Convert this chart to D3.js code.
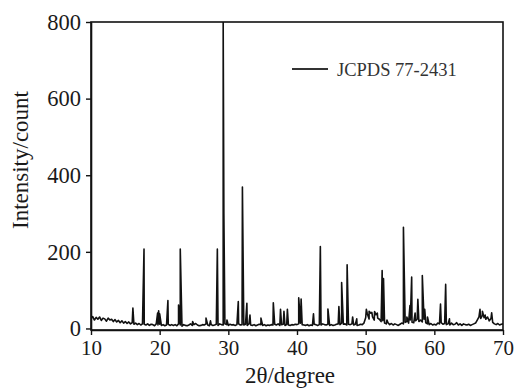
<!DOCTYPE html>
<html><head><meta charset="utf-8">
<script src="https://cdn.jsdelivr.net/npm/d3@7"></script>
<style>body{margin:0;background:#fff}svg{display:block}</style>
</head><body>
<svg id="c" width="515" height="388"></svg>
<script>
// ---- data ----
const xTicks = [10, 20, 30, 40, 50, 60, 70];
const yTicks = [0, 200, 400, 600, 800];
const xLabel = "2\u03B8/degree";
const yLabel = "Intensity/count";
const legendLabel = "JCPDS 77-2431";
// background counts on a 0.25 degree scan grid from 10 to 70
const scanStart = 10, scanStep = 0.25;
const baseline = [
 26,31,22,29, 24,30,21,27, 25,19,27,22, 24,18,23,17, 21,15,20,14,
 18,13,17,12, 15,11,14,10, 13,9,12,11, 9,12,8,11, 10,7,12,9,
 11,8,10,7, 9,11,8,10, 8,10,7,12, 9,6,10,8, 7,9,12,8,
 10,13,9,7, 8,10,9,12, 9,7,10,8, 9,11,8,12, 10,9,12,10,
 8,11,9,10, 8,10,12,9, 10,9,11,8, 12,9,8,10, 7,9,11,10,
 8,10,7,9, 8,10,9,11, 9,12,8,10, 11,8,10,9, 8,10,9,11,
 10,12,14,10, 9,8,10,7, 9,8,11,10, 8,10,9,12, 10,9,11,8,
 10,8,9,11, 12,10,14,11, 12,9,11,10, 12,9,11,8, 9,11,10,14,
 28,38,25,40, 30,22,36,27, 24,18,20,14, 12,15,10,13, 9,12,10,8,
 11,14,12,16, 18,14,22,16, 15,20,24,18, 22,17,24,15, 12,10,13,9,
 11,9,14,12, 15,11,13,10, 12,9,14,10, 11,15,9,12, 8,12,10,9,
 11,8,10,12, 14,22,30,26, 34,28,24,30, 20,26,16,12, 10,13,9,11,
 12
];
// diffraction peaks: angle (degree) and intensity (count)
const peakAngles = [16.1,17.72,19.7,19.85,20.0,21.2,22.75,23.0,24.8,26.75,27.4,28.4,29.25,29.35,29.8,
 31.45,32.05,32.7,33.15,34.75,36.55,37.6,38.1,38.6,40.25,40.6,42.4,43.4,44.5,46.1,46.5,47.3,48.1,48.7,
 50.1,50.5,50.9,51.3,51.7,52.4,52.6,53.1,55.5,56.0,56.45,56.7,57.2,57.6,58.25,58.6,59.0,60.9,61.65,62.2,
 66.65,67.0,67.4,68.35];
const peakCounts = [53,207,40,46,38,73,61,207,18,27,20,207,800,300,22,
 70,369,66,35,27,67,50,45,50,80,77,38,214,51,57,120,166,30,25,
 50,45,42,44,40,151,130,22,264,30,60,134,40,76,138,50,30,64,115,25,
 50,45,35,41];

// ---- chart ----
const svg = d3.select("#c");
const L = 91, R = 503, T = 22, B = 330;
const x = d3.scaleLinear().domain([10, 70]).range([L, R]);
const y = d3.scaleLinear().domain([-4, 800]).range([B, T]);

const pts = baseline.map((v, i) => [scanStart + i * scanStep, v])
  .concat(peakAngles.map((a, i) => [a, peakCounts[i]]))
  .sort((a, b) => a[0] - b[0]);

svg.append("defs").append("clipPath").attr("id", "clip")
  .append("rect").attr("x", L).attr("y", T).attr("width", R - L).attr("height", B - T);

svg.append("path").datum(pts)
  .attr("clip-path", "url(#clip)")
  .attr("fill", "none").attr("stroke", "#111").attr("stroke-width", 1.6)
  .attr("stroke-linejoin", "round")
  .attr("d", d3.line().x(d => x(d[0])).y(d => y(d[1])));

// frame
svg.append("rect").attr("x", L).attr("y", T).attr("width", R - L).attr("height", B - T)
  .attr("fill", "none").attr("stroke", "#111").attr("stroke-width", 1.6);

const fontFam = "'Liberation Serif','Times New Roman',serif";
const xa = svg.append("g").attr("transform", `translate(0,${B})`)
  .call(d3.axisBottom(x).tickValues(xTicks).tickSize(5).tickSizeOuter(0).tickPadding(5));
const ya = svg.append("g").attr("transform", `translate(${L},0)`)
  .call(d3.axisLeft(y).tickValues(yTicks).tickSize(5).tickSizeOuter(0).tickPadding(5));
[xa, ya].forEach(g => {
  g.select(".domain").attr("stroke", "#111").attr("stroke-width", 1.6);
  g.selectAll(".tick line").attr("stroke", "#111").attr("stroke-width", 1.4);
  g.selectAll(".tick text").attr("fill", "#1a1a1a").attr("font-family", fontFam);
});
xa.selectAll(".tick text").attr("font-size", 21);
ya.selectAll(".tick text").attr("font-size", 22.5);

svg.append("text").attr("x", 290).attr("y", 383).attr("text-anchor", "middle")
  .attr("font-family", fontFam).attr("font-size", 23).attr("fill", "#1a1a1a").text(xLabel);
svg.append("text").attr("transform", "translate(28,160) rotate(-90)").attr("text-anchor", "middle")
  .attr("font-family", fontFam).attr("font-size", 23).attr("fill", "#1a1a1a").text(yLabel);

// legend
svg.append("line").attr("x1", 292).attr("x2", 328).attr("y1", 69).attr("y2", 69)
  .attr("stroke", "#333").attr("stroke-width", 2);
svg.append("text").attr("x", 337).attr("y", 75.5)
  .attr("font-family", fontFam).attr("font-size", 18.5).attr("fill", "#333").text(legendLabel);
</script>
</body></html>
